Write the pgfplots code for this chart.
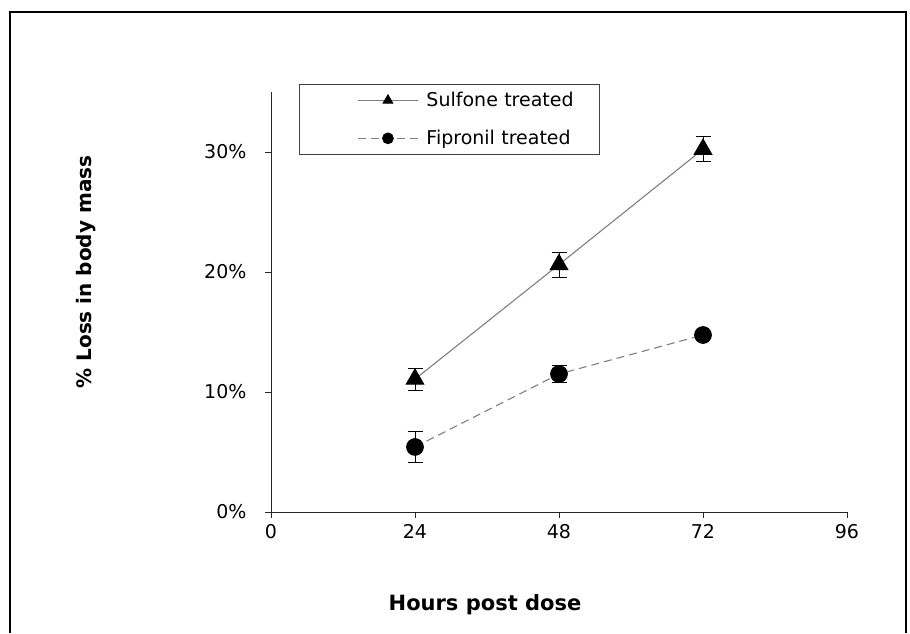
\documentclass[border=0pt]{standalone}
\usepackage{pgfplots}
\pgfplotsset{compat=1.18}
\usepackage{fontspec}
\setmainfont{DejaVu Sans}
\definecolor{linegray}{HTML}{7F7F7F}
\begin{document}
\begin{tikzpicture}[x=1pt,y=1pt]
\useasboundingbox (0,0) rectangle (910,633);
\draw[line width=1.5pt] (10,0) -- (10,621) -- (906,621) -- (906,0);
\begin{axis}[
  at={(271pt,121pt)}, anchor=south west,
  scale only axis, width=576pt, height=420pt,
  xmin=0, xmax=96, ymin=0, ymax=35,
  axis x line=bottom, axis y line=left,
  axis line style={-, black!85, line width=0.8pt},
  xtick={0,24,48,72,96},
  ytick={0,10,20,30}, yticklabels={0\%,10\%,20\%,30\%},
  tick align=outside, major tick length=6pt,
  tick style={black!85, line width=0.8pt},
  ticklabel style={font=\fontsize{19}{22}\selectfont},
  /pgf/number format/assume math mode=true,
  xticklabel style={yshift=-3pt},
  yticklabel style={xshift=-15pt},
  legend style={at={(0.0486,1.019)}, anchor=north west,
    draw=black!75, line width=0.8pt,
    font=\fontsize{19}{22}\selectfont,
    inner xsep=0pt, inner ysep=6pt, row sep=18pt,
    nodes={text width=171pt}},
  legend cell align=left,
  legend image code/.code={%
    \path (-58pt,0pt) (66pt,0pt);
    \draw[mark repeat=2,mark phase=2,#1] plot coordinates {(0pt,0pt) (30pt,0pt) (60pt,0pt)};},
]
\addplot[color=linegray, line width=1.1pt, mark=triangle*, mark size=10pt,
  mark options={black, solid},
  legend image post style={mark size=5.4pt},
  error bars/.cd, y dir=both, y explicit,
  error bar style={black, line width=0.8pt, solid},
  error mark options={rotate=90, black, mark size=7.5pt, line width=0.8pt}]
  coordinates {(24,11.07) +- (0,0.9) (48,20.62) +- (0,1.04) (72,30.23) +- (0,1.04)};
\addlegendentry{Sulfone treated}
\addplot[color=linegray, line width=1.1pt, dash pattern=on 8pt off 5pt,
  mark=*, mark size=8.3pt, mark options={black, solid},
  legend image post style={mark size=5.3pt},
  error bars/.cd, y dir=both, y explicit,
  error bar style={black, line width=0.8pt, solid},
  error mark options={rotate=90, black, mark size=7.5pt, line width=0.8pt}]
  coordinates {(24,5.42) +- (0,1.28) (48,11.5) +- (0,0.7) (72,14.75) +- (0,0.3)};
\addlegendentry{Fipronil treated}
\end{axis}
\node[rotate=90, font=\bfseries\fontsize{20}{24}\selectfont] at (86,361) {\% Loss in body mass};
\node[font=\bfseries\fontsize{21}{24}\selectfont] at (485,28) {Hours post dose};
\end{tikzpicture}
\end{document}
